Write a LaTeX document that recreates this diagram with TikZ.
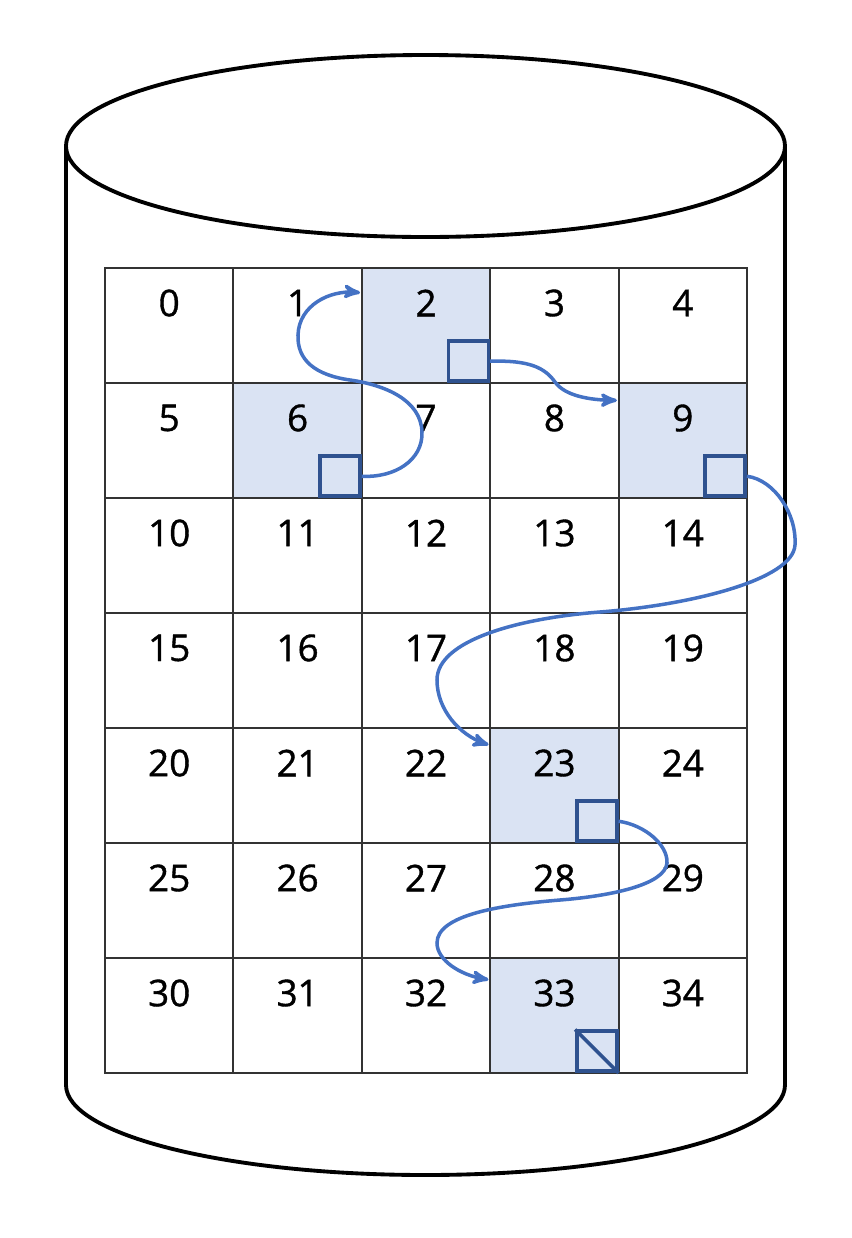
\documentclass[tikz,border=0pt]{standalone}
\usepackage{fontspec}
\setmainfont{Open Sans}
\newfontfamily\cellfont{Open Sans}[FakeBold=1]
\usetikzlibrary{arrows,positioning,backgrounds}
\definecolor{cellblue}{HTML}{DAE3F3}
\definecolor{markblue}{HTML}{2F528F}
\definecolor{linkblue}{HTML}{4472C4}

\begin{document}
\begin{tikzpicture}[x=0.02cm,y=-0.02cm,>=stealth',
  cyl/.style={draw=black,line width=2.2pt},
  cell/.style={draw=black!80,line width=1.2pt,minimum width=2.568cm,minimum height=2.3cm,inner sep=0pt,outer sep=0pt},
  ptr/.style={draw=markblue,fill=cellblue,line width=2pt,minimum size=0.8cm,inner sep=0pt,anchor=south east},
  link/.style={->,draw=linkblue,line width=2pt,shorten >=1pt}]
\useasboundingbox (0,0) rectangle (852,1238);
% the drum
\draw[cyl] (66,146) -- (66,1085) arc[start angle=180,end angle=0,x radius=359.5,y radius=90] -- (785,146);
\draw[cyl] (425.5,146) ellipse [x radius=359.5,y radius=91];
% blocks
\foreach \n in {0,...,34} {
  \pgfmathtruncatemacro\col{mod(\n,5)}
  \pgfmathtruncatemacro\row{div(\n,5)}
  \node[cell,label={[anchor=center,yshift=-0.7cm,font=\cellfont\fontsize{21}{24}\selectfont]north:\n}] (c\n) at ({169.2+128.4*\col},{325.5+115*\row}) {};
}
\begin{scope}[on background layer]
  \foreach \n in {2,6,9,23,33}
    \fill[cellblue] (c\n.north west) rectangle (c\n.south east);
\end{scope}
% pointers
\node[ptr] (p2) at (c2.south east) {};
\node[ptr] (p6) at (c6.south east) {};
\node[ptr] (p9) at (c9.south east) {};
\node[ptr] (p23) at (c23.south east) {};
\node[ptr] (p33) at (c33.south east) {};
\draw[markblue,line width=2pt] (p33.north west) -- (p33.south east);
% chain
\draw[link] (p6.east) .. controls (395,478) and (423,460) .. (422,432)
  .. controls (421,400) and (385,385) .. (350,380)
  .. controls (315,375) and (297,360) .. (298,335)
  .. controls (299,305) and (330,290) .. (c2.153);
\draw[link] (p2.east) .. controls (530,360) and (545,368) .. (555,382)
  .. controls (565,396) and (590,400) .. (c9.148);
\draw[link] (p9.east) .. controls (775,480) and (797,515) .. (795,545)
  .. controls (793,580) and (690,605) .. (600,612)
  .. controls (520,618) and (437,640) .. (437,680)
  .. controls (437,710) and (460,735) .. (c23.148);
\draw[link] (p23.east) .. controls (645,825) and (668,845) .. (667,863)
  .. controls (665,885) and (610,896) .. (560,900)
  .. controls (500,905) and (437,915) .. (437,943)
  .. controls (437,960) and (460,975) .. (c33.151);
\end{tikzpicture}
\end{document}
